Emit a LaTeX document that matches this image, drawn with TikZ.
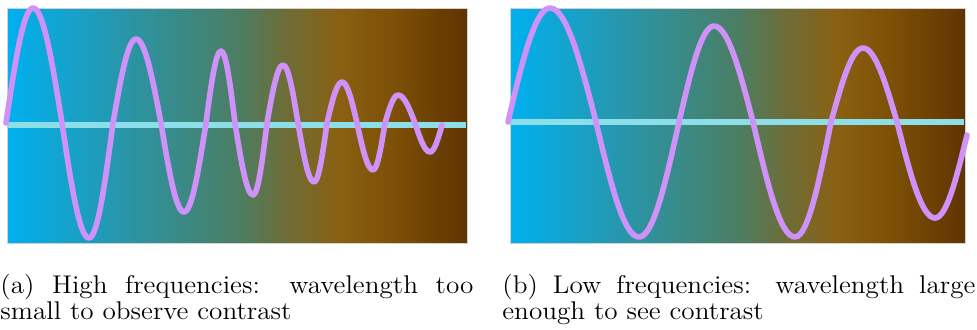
\documentclass[tikz,border=0pt]{standalone}
\usepackage{tikz}
\definecolor{gA}{RGB}{0,176,240}
\definecolor{gB}{RGB}{40,150,170}
\definecolor{gC}{RGB}{75,126,100}
\definecolor{gC2}{RGB}{108,110,58}
\definecolor{gD}{RGB}{138,96,18}
\definecolor{gD2}{RGB}{124,80,6}
\definecolor{gE}{RGB}{96,52,0}
\definecolor{wavecol}{RGB}{206,146,248}
\definecolor{axiscol}{RGB}{140,222,232}
\pgfdeclarehorizontalshading{bgshade}{100bp}{color(0bp)=(gA); color(25bp)=(gA); color(37.5bp)=(gB); color(50bp)=(gC); color(55bp)=(gC2); color(61bp)=(gD); color(67bp)=(gD2); color(75bp)=(gE); color(100bp)=(gE)}
\tikzset{
  panel/.style={shading=bgshade, draw=gray!35, line width=0.3pt},
  axisline/.style={draw=axiscol, line width=2.9pt},
  wave/.style={draw=wavecol, line width=2.8pt, line cap=round, line join=round},
  captext/.style={anchor=base west, inner sep=0pt}
}
\newcommand{\capbox}[1]{\scalebox{1.062}[1]{\parbox[t]{222.7pt}{\fontsize{12.8}{12}\selectfont\tolerance=10000\hyphenpenalty=10000 #1}}}
\begin{document}
\begin{tikzpicture}[x=0.5pt,y=-0.5pt]
\useasboundingbox (0,0) rectangle (977,329);
% left panel
\shade[panel] (7,8) rectangle (467,243);
\coordinate (la) at (7,125);
\coordinate (lb) at (466,125);
\draw[axisline] (la) -- (lb);
\coordinate (lw) at (6,123);
\draw[wave] (lw) sin (33,8) cos (62,123) sin (89,238) cos (113,123)
  sin (136,39) cos (161,123) sin (184,212) cos (206,123)
  sin (221,51) cos (235,123) sin (253,195) cos (267,123)
  sin (283,65) cos (298,123) sin (314,182) cos (327,123)
  sin (342,82) cos (357,123) sin (373,170) cos (385,123)
  sin (398,95) cos (415,123) sin (430,152) cos (442,125);
% right panel
\shade[panel] (510,8) rectangle (965,243);
\coordinate (ra) at (510,122);
\coordinate (rb) at (964,122);
\draw[axisline] (ra) -- (rb);
\coordinate (rw) at (508,122);
\draw[wave] (rw) sin (550,8) cos (596,122) sin (639,237) cos (679,122)
  sin (714,26) cos (753,122) sin (795,237) cos (831,122)
  sin (863,48) cos (897,122) sin (935,218) cos (967,135);
% captions
\node[captext] (capa) at (0,293) {\capbox{(a) High frequencies: wavelength too small to observe contrast}};
\node[captext] (capb) at (502,293) {\capbox{(b) Low frequencies: wavelength large enough to see contrast}};
\end{tikzpicture}
\end{document}
